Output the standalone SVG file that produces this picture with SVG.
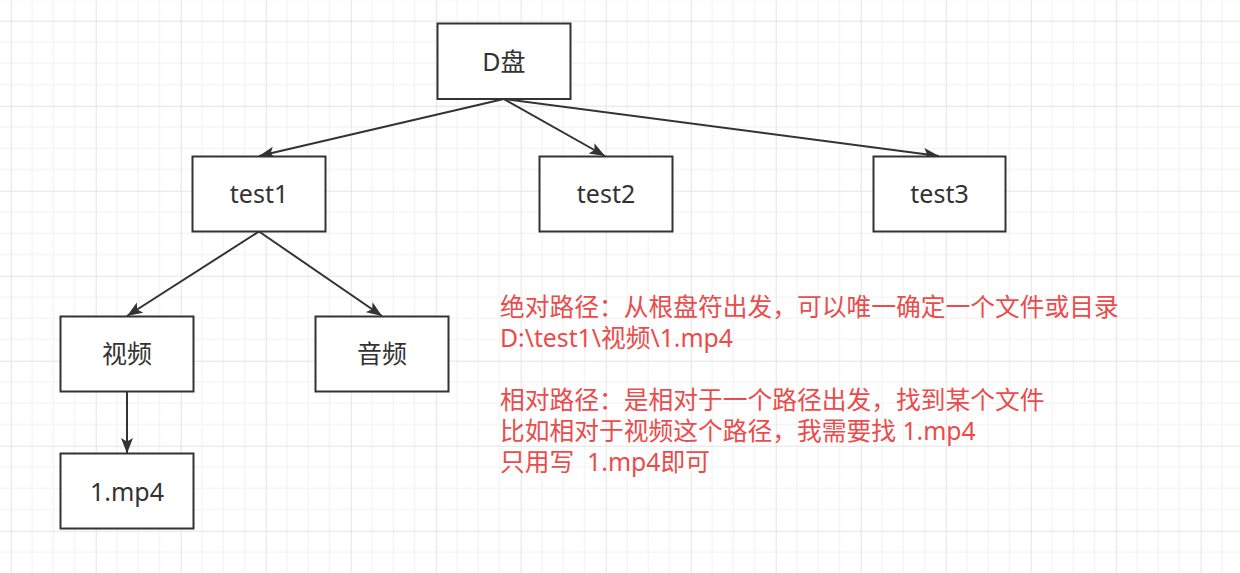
<svg xmlns="http://www.w3.org/2000/svg" width="1240" height="573" viewBox="0 0 1240 573">
  <defs>
    <pattern id="grid" patternUnits="userSpaceOnUse" x="10.7" y="20.7" width="85" height="85">
      <rect width="85" height="85" fill="#ffffff"/>
      <path d="M21.25 0V85M42.5 0V85M63.75 0V85M0 21.25H85M0 42.5H85M0 63.75H85" stroke="#f1f1f1" stroke-width="1" fill="none"/>
      <path d="M0.5 0V85M0 0.5H85" stroke="#e4e4e4" stroke-width="1" fill="none"/>
    </pattern>
    <marker id="arrow" markerUnits="userSpaceOnUse" markerWidth="17" markerHeight="13" refX="15.5" refY="6" orient="auto">
      <path d="M0 0L15.5 6L0 12L3.5 6Z" fill="#333333"/>
    </marker>
    <style>
      .node rect { fill: #ffffff; stroke: #333333; stroke-width: 2; }
      .node text { font-family: "Noto Sans", "Noto Sans CJK SC", sans-serif; font-size: 25px; fill: #333333; text-anchor: middle; }
      .edge { stroke: #333333; stroke-width: 2; fill: none; marker-end: url(#arrow); }
      .note { font-family: "Noto Sans", "Noto Sans CJK SC", sans-serif; font-size: 24.75px; fill: #ea4c4c; white-space: pre; }
    </style>
  </defs>
  <rect x="0" y="0" width="1240" height="573" fill="url(#grid)"/>

  <g id="connectors">
    <path class="edge" d="M503.8 99L259 156"/>
    <path class="edge" d="M503.8 99L605 156"/>
    <path class="edge" d="M503.8 99L939 156"/>
    <path class="edge" d="M259 231.5L127 316"/>
    <path class="edge" d="M259 231.5L382 316"/>
    <path class="edge" d="M127 391.5L127 453.5"/>
  </g>

  <g id="node-d" class="node">
    <rect x="437.5" y="23.5" width="133" height="75.5"/>
    <text x="504" y="70.5">D盘</text>
  </g>
  <g id="node-test1" class="node">
    <rect x="192.5" y="156.5" width="133" height="75"/>
    <text x="259" y="203">test1</text>
  </g>
  <g id="node-test2" class="node">
    <rect x="539.5" y="156.5" width="133" height="75"/>
    <text x="606" y="203">test2</text>
  </g>
  <g id="node-test3" class="node">
    <rect x="873.5" y="156.5" width="132" height="75"/>
    <text x="939.5" y="203">test3</text>
  </g>
  <g id="node-video" class="node">
    <rect x="60.5" y="316.5" width="133" height="75"/>
    <text x="127" y="363">视频</text>
  </g>
  <g id="node-audio" class="node">
    <rect x="315.5" y="316.5" width="133" height="75"/>
    <text x="382" y="363">音频</text>
  </g>
  <g id="node-mp4" class="node">
    <rect x="60.5" y="453.5" width="133" height="75"/>
    <text x="127" y="501">1.mp4</text>
  </g>

  <g id="note">
    <text class="note" x="500" y="316">绝对路径：从根盘符出发，可以唯一确定一个文件或目录</text>
    <text class="note" x="500" y="347">D:\test1\视频\1.mp4</text>
    <text class="note" x="500" y="409">相对路径：是相对于一个路径出发，找到某个文件</text>
    <text class="note" x="500" y="440">比如相对于视频这个路径，我需要找 1.mp4</text>
    <text class="note" x="500" y="471" xml:space="preserve">只用写  1.mp4即可</text>
  </g>
</svg>
